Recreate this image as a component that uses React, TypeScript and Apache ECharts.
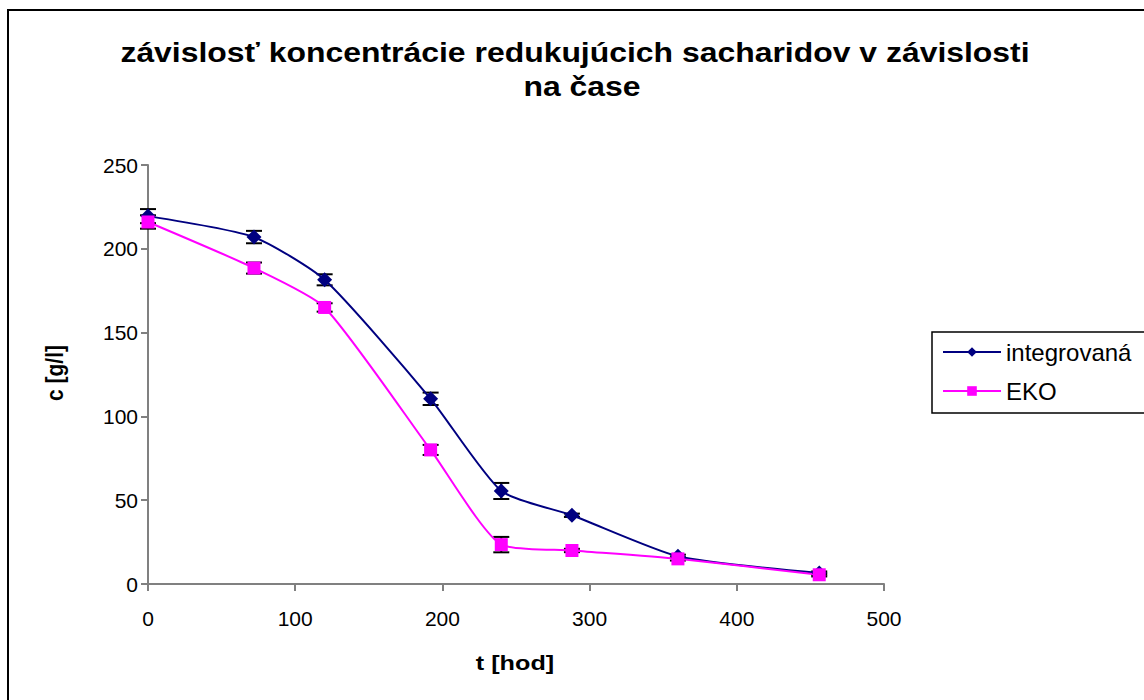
import React, { useEffect, useRef } from "react";
import * as echarts from "echarts";

const hours = [0, 72, 120, 192, 240, 288, 360, 456];
const integrovana = [219.5, 207, 181.5, 110.5, 55.5, 41, 16.5, 6.5];
const integrovanaErr = [4.2, 3.7, 3.3, 3.7, 4.8, 1, 1, 1];
const eko = [216, 188.5, 165, 80, 23.5, 20, 15, 5.5];
const ekoErr = [4, 3.3, 2.5, 3, 4.6, 1, 1, 1];
const seriesNames = ["integrovaná", "EKO"];
const titleLines = ["závislosť koncentrácie redukujúcich sacharidov v závislosti", "na čase"];
const xName = "t [hod]";
const yName = "c [g/l]";

const FONT = "'Liberation Sans', Arial, sans-serif";

function errSeries(vals: number[], errs: number[]) {
  return {
    type: "custom",
    z: 1,
    silent: true,
    data: hours.map((h, i) => [h, vals[i], errs[i]]),
    renderItem: (params: any, api: any) => {
      const x = api.value(0);
      const y = api.value(1);
      const e = api.value(2);
      const top = api.coord([x, y + e]);
      const bot = api.coord([x, y - e]);
      const hw = 8;
      const style = { stroke: "#000", lineWidth: 2 };
      return {
        type: "group",
        children: [
          { type: "line", shape: { x1: top[0], y1: top[1], x2: bot[0], y2: bot[1] }, style },
          { type: "line", shape: { x1: top[0] - hw, y1: top[1], x2: top[0] + hw, y2: top[1] }, style },
          { type: "line", shape: { x1: bot[0] - hw, y1: bot[1], x2: bot[0] + hw, y2: bot[1] }, style },
        ],
      };
    },
  };
}

export default function App() {
  const ref = useRef<HTMLDivElement>(null);
  useEffect(() => {
    document.body.style.margin = "0";
    const chart = echarts.init(ref.current!, null, { renderer: "svg" });
    chart.setOption({
      animation: false,
      backgroundColor: "#fff",
      textStyle: { fontFamily: FONT },
      grid: { left: 148, top: 165, right: 260, bottom: 116, containLabel: false },
      xAxis: {
        type: "value",
        min: 0,
        max: 500,
        interval: 100,
        axisLine: { show: true, onZero: false, lineStyle: { color: "#808080", width: 2 } },
        axisTick: { show: true, length: 7, inside: false, lineStyle: { color: "#808080", width: 2 } },
        axisLabel: { color: "#000", fontSize: 21, fontFamily: FONT, margin: 24 },
        splitLine: { show: false },
      },
      yAxis: {
        type: "value",
        min: 0,
        max: 250,
        interval: 50,
        axisLine: { show: true, lineStyle: { color: "#808080", width: 2 } },
        axisTick: { show: true, length: 7, inside: false, lineStyle: { color: "#808080", width: 2 } },
        axisLabel: { color: "#000", fontSize: 21, fontFamily: FONT, margin: 10 },
        splitLine: { show: false },
      },
      legend: {
        orient: "vertical",
        left: 932,
        top: 332,
        data: seriesNames,
        itemWidth: 58,
        itemHeight: 12,
        itemGap: 15,
        padding: [8, 30, 10, 10],
        borderColor: "#000",
        borderWidth: 1.5,
        textStyle: { color: "#000", fontSize: 24, fontFamily: FONT },
      },
      graphic: [
        {
          type: "rect",
          shape: { x: 8, y: 10, width: 1300, height: 800 },
          style: { fill: "none", stroke: "#000", lineWidth: 2 },
          silent: true,
        },
        {
          type: "text",
          x: 575,
          y: 52,
          scaleX: 1.14,
          style: {
            text: titleLines[0],
            fill: "#000",
            font: `bold 28px ${FONT}`,
            textAlign: "center",
            textVerticalAlign: "middle",
          },
        },
        {
          type: "text",
          x: 582,
          y: 86,
          scaleX: 1.14,
          style: {
            text: titleLines[1],
            fill: "#000",
            font: `bold 28px ${FONT}`,
            textAlign: "center",
            textVerticalAlign: "middle",
          },
        },
        {
          type: "text",
          x: 515,
          y: 663,
          scaleX: 1.2,
          style: {
            text: xName,
            fill: "#000",
            font: `bold 21px ${FONT}`,
            textAlign: "center",
            textVerticalAlign: "middle",
          },
        },
        {
          type: "text",
          x: 55,
          y: 373,
          rotation: Math.PI / 2,
          scaleY: 1.15,
          style: {
            text: yName,
            fill: "#000",
            font: `bold 21px ${FONT}`,
            textAlign: "center",
            textVerticalAlign: "middle",
          },
        },
      ],
      series: [
        errSeries(integrovana, integrovanaErr),
        errSeries(eko, ekoErr),
        {
          name: seriesNames[0],
          type: "line",
          z: 3,
          data: hours.map((h, i) => [h, integrovana[i]]),
          smooth: 0.2,
          symbol: "diamond",
          symbolSize: 15,
          lineStyle: { color: "#000080", width: 2 },
          itemStyle: { color: "#000080" },
        },
        {
          name: seriesNames[1],
          type: "line",
          z: 3,
          data: hours.map((h, i) => [h, eko[i]]),
          smooth: 0.2,
          symbol: "rect",
          symbolSize: 13,
          lineStyle: { color: "#FF00FF", width: 2 },
          itemStyle: { color: "#FF00FF" },
        },
      ],
    });
    return () => chart.dispose();
  }, []);
  return <div ref={ref} style={{ width: 1144, height: 700 }} />;
}
